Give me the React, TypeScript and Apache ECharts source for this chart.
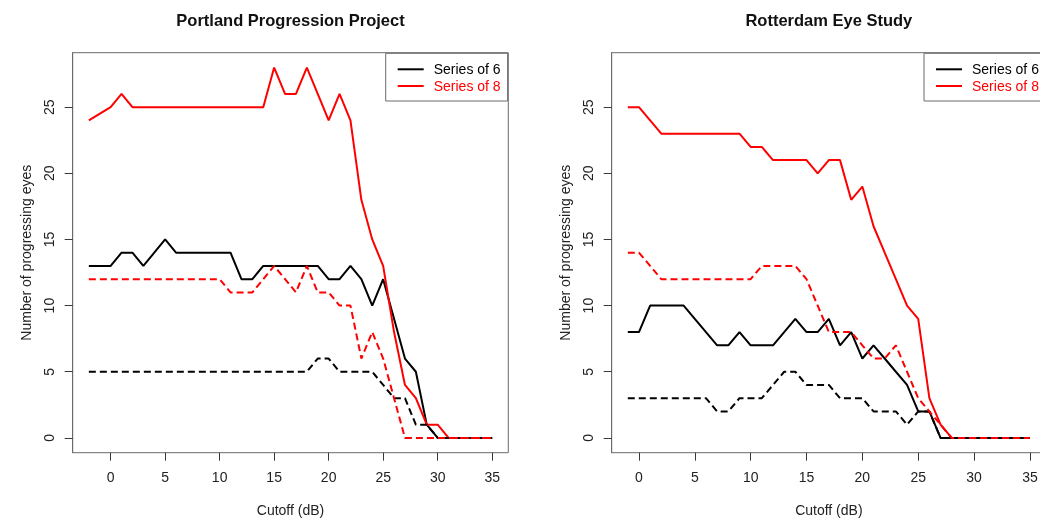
import React, { useEffect, useRef } from "react";
import * as echarts from "echarts";

// Cutoff values (dB) for each panel
const portlandX = [-2, 0, 1, 2, 3, 4, 5, 6, 7, 8, 9, 10, 11, 12, 13, 14, 15, 16, 17, 18, 19, 20, 21, 22, 23, 24, 25, 26, 27, 28, 29, 30, 31, 32, 33, 34, 35];
const rotterdamX = [-1, 0, 1, 2, 3, 4, 5, 6, 7, 8, 9, 10, 11, 12, 13, 14, 15, 16, 17, 18, 19, 20, 21, 22, 23, 24, 25, 26, 27, 28, 29, 30, 31, 32, 33, 34, 35];

// Portland Progression Project
const portlandSix = [13, 13, 14, 14, 13, 14, 15, 14, 14, 14, 14, 14, 14, 12, 12, 13, 13, 13, 13, 13, 13, 12, 12, 13, 12, 10, 12, 9, 6, 5, 1, 0, 0, 0, 0, 0, 0];
const portlandSixDash = [5, 5, 5, 5, 5, 5, 5, 5, 5, 5, 5, 5, 5, 5, 5, 5, 5, 5, 5, 5, 6, 6, 5, 5, 5, 5, 4, 3, 3, 1, 1, 0, 0, 0, 0, 0, 0];
const portlandEight = [24, 25, 26, 25, 25, 25, 25, 25, 25, 25, 25, 25, 25, 25, 25, 25, 28, 26, 26, 28, 26, 24, 26, 24, 18, 15, 13, 8, 4, 3, 1, 1, 0, 0, 0, 0, 0];
const portlandEightDash = [12, 12, 12, 12, 12, 12, 12, 12, 12, 12, 12, 12, 11, 11, 11, 12, 13, 12, 11, 13, 11, 11, 10, 10, 6, 8, 6, 3, 0, 0, 0, 0, 0, 0, 0, 0, 0];

// Rotterdam Eye Study
const rotterdamSix = [8, 8, 10, 10, 10, 10, 9, 8, 7, 7, 8, 7, 7, 7, 8, 9, 8, 8, 9, 7, 8, 6, 7, 6, 5, 4, 2, 2, 0, 0, 0, 0, 0, 0, 0, 0, 0];
const rotterdamSixDash = [3, 3, 3, 3, 3, 3, 3, 3, 2, 2, 3, 3, 3, 4, 5, 5, 4, 4, 4, 3, 3, 3, 2, 2, 2, 1, 2, 2, 0, 0, 0, 0, 0, 0, 0, 0, 0];
const rotterdamEight = [25, 25, 24, 23, 23, 23, 23, 23, 23, 23, 23, 22, 22, 21, 21, 21, 21, 20, 21, 21, 18, 19, 16, 14, 12, 10, 9, 3, 1, 0, 0, 0, 0, 0, 0, 0, 0];
const rotterdamEightDash = [14, 14, 13, 12, 12, 12, 12, 12, 12, 12, 12, 12, 13, 13, 13, 13, 12, 10, 8, 8, 8, 7, 6, 6, 7, 5, 3, 2, 1, 0, 0, 0, 0, 0, 0, 0, 0];

const xTicks = [0, 5, 10, 15, 20, 25, 30, 35];
const yTicks = [0, 5, 10, 15, 20, 25];
const titles = ["Portland Progression Project", "Rotterdam Eye Study"];
const SIX = "Series of 6";
const EIGHT = "Series of 8";

const FONT = "'Liberation Sans', Arial, Helvetica, sans-serif";
const BOX = "#6b6b6b";
const TICK = "#3a3a3a";

const pairs = (xs: number[], ys: number[]) => xs.map((x, i) => [x, ys[i]]);

export default function App() {
  const ref = useRef<HTMLDivElement>(null);
  useEffect(() => {
    if (!ref.current) return;
    const chart = echarts.init(ref.current, null, { renderer: "svg" });

    const grids = [
      { left: 72.7, top: 52.7, width: 435.6, height: 400 },
      { left: 611.7, top: 52.7, width: 434.3, height: 400 },
    ];
    const xRanges = [
      [-3.48, 36.48],
      [-2.44, 36.44],
    ];

    const xAxis = [0, 1].map((i) => ({
      type: "value",
      gridIndex: i,
      min: xRanges[i][0],
      max: xRanges[i][1],
      name: "Cutoff (dB)",
      nameLocation: "middle",
      nameGap: 50,
      nameTextStyle: { fontFamily: FONT, fontSize: 14, color: "#222" },
      axisLine: { show: false, onZero: false },
      splitLine: { show: false },
      axisTick: { show: true, length: 8, customValues: xTicks, lineStyle: { color: TICK, width: 1 } },
      axisLabel: { customValues: xTicks, margin: 17, fontFamily: FONT, fontSize: 14, color: "#222" },
    }));
    const yAxis = [0, 1].map((i) => ({
      type: "value",
      gridIndex: i,
      min: -1.12,
      max: 29.12,
      name: "Number of progressing eyes",
      nameLocation: "middle",
      nameGap: 40,
      nameTextStyle: { fontFamily: FONT, fontSize: 14, color: "#222" },
      axisLine: { show: true, onZero: false, lineStyle: { color: BOX, width: 1 } },
      splitLine: { show: false },
      axisTick: { show: true, length: 8, customValues: yTicks, lineStyle: { color: TICK, width: 1 } },
      axisLabel: { customValues: yTicks, rotate: 90, margin: 17, fontFamily: FONT, fontSize: 14, color: "#222" },
    }));

    const mk = (name: string, idx: number, data: number[][], color: string, dashed: boolean) => ({
      type: "line",
      name,
      xAxisIndex: idx,
      yAxisIndex: idx,
      data,
      symbol: "none",
      showSymbol: false,
      lineStyle: { color, width: 2, type: dashed ? [7, 4] : "solid" },
      itemStyle: { color },
      silent: true,
    });

    const series = [
      mk(SIX, 0, pairs(portlandX, portlandSix), "#000000", false),
      mk(EIGHT, 0, pairs(portlandX, portlandEight), "#ff0000", false),
      mk(SIX, 0, pairs(portlandX, portlandSixDash), "#000000", true),
      mk(EIGHT, 0, pairs(portlandX, portlandEightDash), "#ff0000", true),
      mk(SIX, 1, pairs(rotterdamX, rotterdamSix), "#000000", false),
      mk(EIGHT, 1, pairs(rotterdamX, rotterdamEight), "#ff0000", false),
      mk(SIX, 1, pairs(rotterdamX, rotterdamSixDash), "#000000", true),
      mk(EIGHT, 1, pairs(rotterdamX, rotterdamEightDash), "#ff0000", true),
    ];

    const legendBase = {
      orient: "vertical",
      top: 53.3,
      padding: [9, 7, 8, 12],
      icon: "rect",
      itemWidth: 26,
      itemHeight: 2,
      itemGap: 2.7,
      selectedMode: false,
      borderColor: BOX,
      borderWidth: 1,
      borderRadius: 0,
      backgroundColor: "#ffffff",
      textStyle: { fontFamily: FONT, fontSize: 14, padding: [0, 0, 0, 5] },
      data: [
        { name: SIX, itemStyle: { color: "#000000" }, textStyle: { color: "#000000" } },
        { name: EIGHT, itemStyle: { color: "#ff0000" }, textStyle: { color: "#ff0000" } },
      ],
    };

    chart.setOption({
      animation: false,
      grid: grids.map((g) => ({ ...g, show: true, borderColor: BOX, borderWidth: 1, outerBoundsMode: "none" })),
      xAxis,
      yAxis,
      legend: [
        { ...legendBase, left: 385.7 },
        { ...legendBase, left: 924 },
      ],
      graphic: titles.map((t, i) => ({
        type: "text",
        x: grids[i].left + grids[i].width / 2,
        y: 20,
        style: {
          text: t,
          fontFamily: FONT,
          fontSize: 16.5,
          fontWeight: "bold",
          fill: "#111",
          textAlign: "center",
          textVerticalAlign: "middle",
        },
      })),
      series,
    });

    return () => chart.dispose();
  }, []);

  return <div ref={ref} style={{ position: "fixed", left: 0, top: 0, width: 1040, height: 519 }} />;
}
